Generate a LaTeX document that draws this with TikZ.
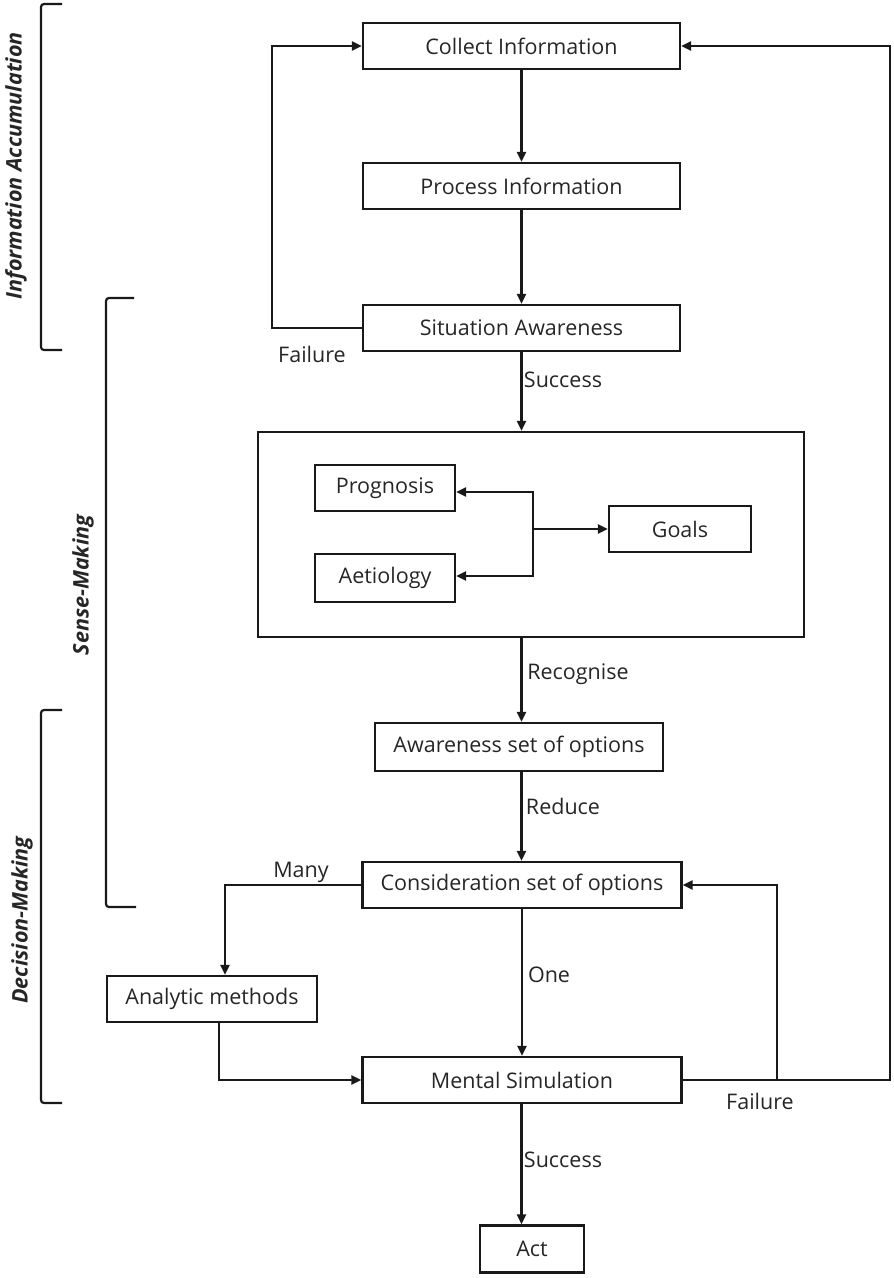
\documentclass[tikz,border=0pt]{standalone}
\usepackage{fontspec}
\setmainfont{Open Sans}
\usetikzlibrary{arrows.meta}
\begin{document}
\begin{tikzpicture}[x=1pt,y=-1pt,
  line width=2.2pt,
  every node/.style={text=black!85},
  box/.style={draw=black!90,rectangle,minimum height=46pt,inner sep=0pt,font=\fontsize{21.5}{24}\selectfont},
  lbl/.style={font=\fontsize{21.5}{24}\selectfont},
  side/.style={font=\fontsize{21.5}{24}\selectfont\bfseries\itshape,rotate=90},
  arr/.style={draw=black!90,-{Triangle[length=10pt,width=9pt]}},
  brk/.style={draw=black!90,rounded corners=3pt}]
\useasboundingbox (0,0) rectangle (894,1278);
\node[box,minimum width=317pt] (col) at (521.5,46) {Collect Information};
\node[box,minimum width=317pt] (pro) at (521.5,186) {Process Information};
\node[box,minimum width=317pt] (sit) at (521.5,328) {Situation Awareness};
\node[box,minimum width=546pt,minimum height=205pt] (big) at (531,534.5) {};
\node[box,minimum width=140pt] (prog) at (385,488) {Prognosis};
\node[box,minimum width=140pt,minimum height=48pt] (aet) at (385,578) {Aetiology};
\node[box,minimum width=142pt] (goal) at (680,529) {Goals};
\coordinate (J) at (533,529);
\node[box,minimum width=288pt,minimum height=48pt] (awa) at (519,747) {Awareness set of options};
\node[box,minimum width=319pt] (con) at (522,885) {Consideration set of options};
\node[box,minimum width=319pt] (ms) at (522,1080) {Mental Simulation};
\node[box,minimum width=210pt] (ana) at (212,999) {Analytic methods};
\node[box,minimum width=104pt,minimum height=47pt] (act) at (532,1249) {Act};
\coordinate (L) at (272,328);
\coordinate (R1) at (777,1080);
\coordinate (R2) at (890,1080);
% main flow
\draw[arr] (col) -- (pro);
\draw[arr] (pro) -- (sit);
\draw[arr] (sit.south) -- (sit.south |- big.north);
\draw[arr] (sit.south |- big.south) -- (sit.south |- awa.north);
\draw[arr] (sit.south |- awa.south) -- (sit.south |- con.north);
\draw[arr] (con) -- (ms);
\draw[arr] (sit.south |- ms.south) -- (sit.south |- act.north);
% feedback
\draw[arr] (sit.west) -- (L) |- (col.west);
\draw[arr] (ms.east) -- (R1) |- (con.east);
\draw[arr] (R1) -- (R2) |- (col.east);
\draw[arr] (con.west) -| ([xshift=13pt]ana.north);
\draw[arr] ([xshift=7pt]ana.south) |- (ms.west);
% inner
\draw[arr] (J) -- (goal.west);
\draw[arr] (J) |- ([yshift=-4pt]prog.east);
\draw[arr] (J) |- ([yshift=2pt]aet.east);
% labels
\node[lbl] (l1) at (312,354) {Failure};
\node[lbl] (l2) at (563,380) {Success};
\node[lbl] (l3) at (578,674) {Recognise};
\node[lbl] (l4) at (563,806) {Reduce};
\node[lbl] (l5) at (301,872) {Many};
\node[lbl] (l6) at (549,975) {One};
\node[lbl] (l7) at (760,1101) {Failure};
\node[lbl] (l8) at (563,1160) {Success};
% brackets
\draw[brk] (62,4) -- (41,4) -- (41,350) -- (62,350);
\draw[brk] (134,298) -- (106,298) -- (106,907) -- (136,907);
\draw[brk] (62,710) -- (41,710) -- (41,1103) -- (62,1103);
\node[side] (s1) at (16,166) {Information Accumulation};
\node[side] (s2) at (83,585) {Sense-Making};
\node[side] (s3) at (22,920) {Decision-Making};
\end{tikzpicture}
\end{document}
